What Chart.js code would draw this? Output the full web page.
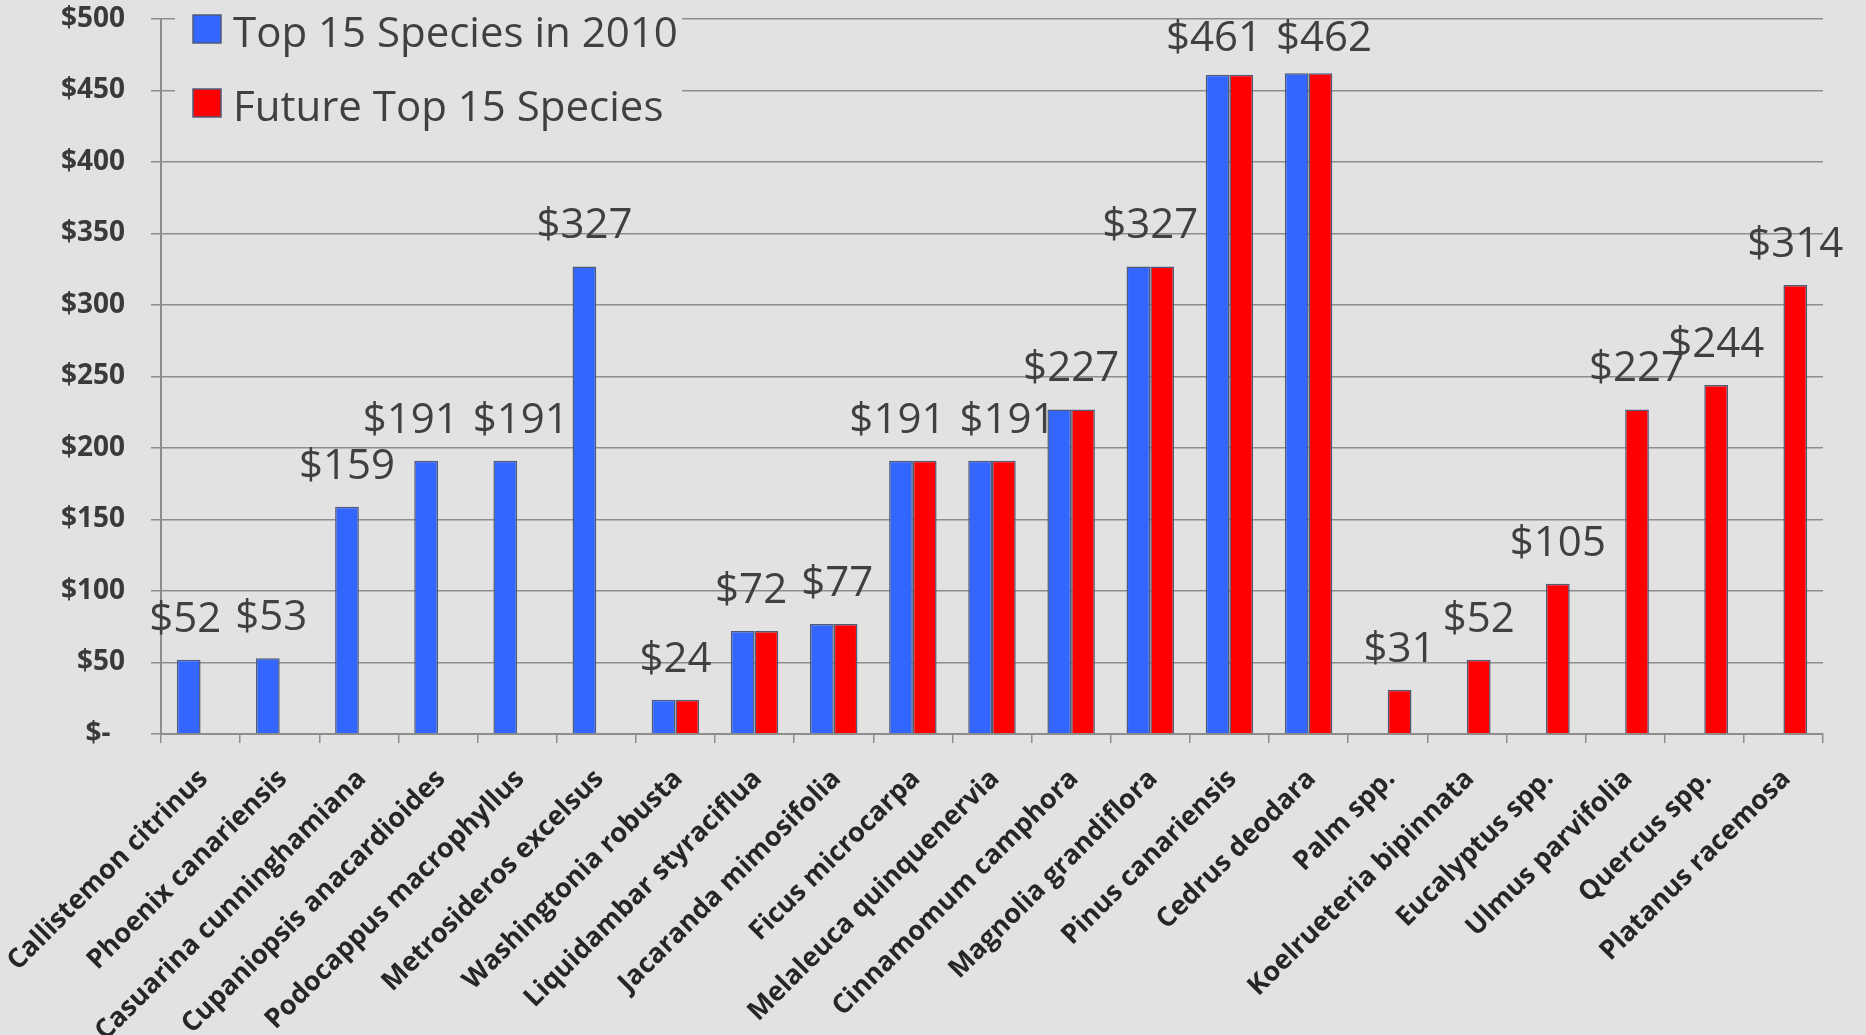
<!DOCTYPE html>
<html>
<head>
<meta charset="utf-8">
<script src="https://cdn.jsdelivr.net/npm/chart.js@4.4.1/dist/chart.umd.min.js"></script>
<style>
  html, body { margin: 0; padding: 0; background: #e2e2e2; }
  #wrap { width: 1866px; height: 1035px; position: relative; }
</style>
</head>
<body>
<div id="wrap"><canvas id="c" width="1866" height="1035"></canvas></div>
<script>
// ---- data ----
const categories = [
  'Callistemon citrinus', 'Phoenix canariensis', 'Casuarina cunninghamiana',
  'Cupaniopsis anacardioides', 'Podocappus macrophyllus', 'Metrosideros excelsus',
  'Washingtonia robusta', 'Liquidambar styraciflua', 'Jacaranda mimosifolia',
  'Ficus microcarpa', 'Melaleuca quinquenervia', 'Cinnamomum camphora',
  'Magnolia grandiflora', 'Pinus canariensis', 'Cedrus deodara', 'Palm spp.',
  'Koelrueteria bipinnata', 'Eucalyptus spp.', 'Ulmus parvifolia', 'Quercus spp.',
  'Platanus racemosa'
];
const top2010 = [52, 53, 159, 191, 191, 327, 24, 72, 77, 191, 191, 227, 327, 461, 462,
  null, null, null, null, null, null];
const futureTop15 = [null, null, null, null, null, null, 24, 72, 77, 191, 191, 227, 327, 461, 462,
  31, 52, 105, 227, 244, 314];
const seriesNames = ['Top 15 Species in 2010', 'Future Top 15 Species'];
const yTickValues = [0, 50, 100, 150, 200, 250, 300, 350, 400, 450, 500];
const yTickLabels = ['$-  ', '$50', '$100', '$150', '$200', '$250', '$300', '$350', '$400', '$450', '$500'];

// ---- styles ----
const BG = '#e2e2e2';
const BLUE = '#3366ff';
const RED = '#ff0000';
const BAR_BORDER = '#4f5b78';
const GRID = '#8d8d8d';
const FONT = '"Open Sans", "Noto Sans", sans-serif';

const legendPlugin = {
  id: 'customLegend',
  afterDraw(chart) {
    const ctx = chart.ctx;
    ctx.save();
    ctx.fillStyle = BG;
    ctx.fillRect(175, 0, 507, 140);
    const rows = [{ box: 15, base: 47 }, { box: 89, base: 121 }];
    chart.data.datasets.forEach((ds, i) => {
      const r = rows[i];
      ctx.fillStyle = ds.backgroundColor;
      ctx.fillRect(193, r.box, 28, 28);
      ctx.lineWidth = 1.5;
      ctx.strokeStyle = BAR_BORDER;
      ctx.strokeRect(193, r.box, 28, 28);
      ctx.fillStyle = '#404040';
      ctx.font = '42px ' + FONT;
      ctx.textAlign = 'left';
      ctx.textBaseline = 'alphabetic';
      ctx.fillText(ds.label, 233, r.base);
    });
    ctx.restore();
  }
};

const valueLabelPlugin = {
  id: 'valueLabels',
  afterDatasetsDraw(chart) {
    const ctx = chart.ctx;
    ctx.save();
    ctx.font = '42px ' + FONT;
    const minBase = chart.chartArea.top + 32;
    const labels = [];
    categories.forEach((c, i) => {
      let xs = [], top = Infinity, val = null;
      chart.data.datasets.forEach((ds, d) => {
        const v = ds.data[i];
        if (v === null || v === undefined) return;
        const el = chart.getDatasetMeta(d).data[i];
        xs.push(el.x);
        top = Math.min(top, el.y);
        val = v;
      });
      if (!xs.length) return;
      const x = xs.reduce((a, b) => a + b, 0) / xs.length;
      const text = '$' + val;
      const w = ctx.measureText(text).width;
      labels.push({ x, y: Math.max(minBase, top - 28), text, w });
    });
    // push apart neighbouring labels sitting at nearly the same height
    const gap = 14;
    for (let k = 0; k < labels.length - 1; k++) {
      const a = labels[k], b = labels[k + 1];
      if (Math.abs(a.y - b.y) > 20) continue;
      const overlap = (a.x + a.w / 2 + gap) - (b.x - b.w / 2);
      if (overlap > 0) { a.x -= overlap / 2; b.x += overlap / 2; }
    }
    ctx.fillStyle = '#404040';
    ctx.textAlign = 'center';
    ctx.textBaseline = 'alphabetic';
    labels.forEach(l => ctx.fillText(l.text, l.x, l.y));
    ctx.restore();
  }
};

function draw() {
  new Chart(document.getElementById('c'), {
    type: 'bar',
    data: {
      labels: categories,
      datasets: [
        { label: seriesNames[0], data: top2010, backgroundColor: BLUE, borderColor: BAR_BORDER, borderWidth: 1.5 },
        { label: seriesNames[1], data: futureTop15, backgroundColor: RED, borderColor: BAR_BORDER, borderWidth: 1.5 }
      ]
    },
    options: {
      responsive: false,
      animation: false,
      devicePixelRatio: 1,
      datasets: { bar: { categoryPercentage: 0.6, barPercentage: 1.0 } },
      layout: { padding: { top: 19, right: 43, left: 0, bottom: 0 } },
      plugins: { legend: { display: false }, tooltip: { enabled: false } },
      scales: {
        x: {
          grid: { display: true, drawOnChartArea: false, drawTicks: true, tickLength: 9, color: GRID, lineWidth: 1.5, offset: true },
          border: { display: true, color: GRID, width: 2 },
          ticks: {
            autoSkip: false, maxRotation: 45, minRotation: 45, padding: 20, labelOffset: 3,
            color: '#262626',
            font: { family: FONT, size: 27, weight: 'bold' }
          },
          afterFit(s) { s.height = 301; s.paddingLeft = 0; s.paddingRight = 0; }
        },
        y: {
          min: 0, max: 500,
          afterBuildTicks(s) { s.ticks = yTickValues.map(v => ({ value: v })); },
          ticks: {
            padding: 26,
            color: '#3a3a3a',
            font: { family: FONT, size: 28, weight: 'bold' },
            callback: (v) => yTickLabels[yTickValues.indexOf(v)]
          },
          grid: { color: GRID, lineWidth: 1.5, tickLength: 10 },
          border: { display: true, color: GRID, width: 2 },
          afterFit(s) { s.width = 161; s.paddingTop = 0; s.paddingBottom = 0; }
        }
      }
    },
    plugins: [valueLabelPlugin, legendPlugin]
  });
}
if (document.fonts && document.fonts.load) {
  Promise.all([
    document.fonts.load('42px "Open Sans"'),
    document.fonts.load('bold 28px "Open Sans"')
  ]).then(draw, draw);
} else { draw(); }
</script>
</body>
</html>
